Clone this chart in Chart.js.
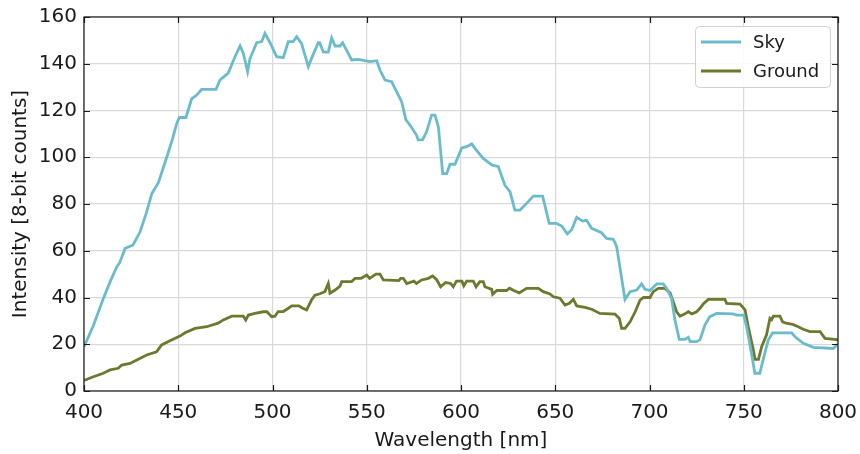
<!DOCTYPE html>
<html>
<head>
<meta charset="utf-8">
<title>Sky vs Ground spectrum</title>
<script src="https://cdn.jsdelivr.net/npm/chart.js@4.4.1/dist/chart.umd.min.js"></script>
<style>
  html, body { margin: 0; padding: 0; background: #fff; }
  #wrap { width: 860px; height: 454px; }
</style>
</head>
<body>
<div id="wrap"><canvas id="spectrum"></canvas></div>
<script>
// spectra (wavelength nm / intensity counts)
const skyWl = [400, 405, 410, 414, 417.3, 419, 421.8, 426, 429.7, 433, 436, 439.4, 443.9, 447, 449.2, 450.6, 454.1, 457.1, 459.8, 462.4,
  470, 472.1, 476.5, 480.1, 482.8, 484.5, 486.8, 488, 491.6, 494.3, 496, 498.7, 502.2, 505.7, 508.4, 511, 512.8, 515.4, 519, 520.7,
  524.3, 525, 527, 529.6, 531.4, 533.2, 535.8, 537.2, 542, 545.5, 549, 551.7, 555.3, 557, 559.7, 563.2, 565.9, 568.5, 570.8, 572.9,
  576.4, 577.3, 579.6, 581.8, 584.4, 586.2, 588, 590.3, 592.4, 594.2, 596.8, 600.4, 603, 605.7, 607.4, 611.8, 616.3, 619.8, 623.3, 626,
  628.6, 631.3, 635.7, 638.4, 643.3, 646.8, 650.7, 653.4, 656.4, 658.7, 661.4, 664.5, 666.6, 669.3, 674.6, 677.2, 680.8, 682.6, 687, 689.7,
  693.2, 695.8, 697.6, 700.3, 703.8, 707.3, 709.1, 711.7, 713.5, 715.8, 718.8, 720.6, 721.6, 725, 726.8, 729.4, 732, 735.6, 744.4, 746.2,
  750, 751.5, 754.1, 755.9, 758.5, 760.7, 763, 765.3, 775.4, 777.2, 781.6, 786.9, 797.5, 799.3, 800];
const skyVal = [19, 28, 39, 47, 53, 55, 61, 62.5, 68, 76, 84.5, 89, 100, 108, 114.5, 117, 117, 125, 126.6, 129,
  129, 133, 136, 143, 147.6, 144.5, 136.6, 142, 149, 149.5, 153, 149, 143, 142.6, 149.5, 149.5, 151.6, 148.7, 138.8, 142.3,
  149, 149, 145, 145, 151, 147.6, 147.6, 149, 141.6, 141.9, 141.3, 140.9, 141.3, 137.3, 133, 132.3, 128, 123.8, 116, 113.8,
  109.5, 107.4, 107.4, 111, 118, 118, 113, 93, 93, 97, 97, 104, 104.5, 105.7, 103.8, 99.5, 96.7, 96, 88, 85.3,
  77.4, 77.4, 81, 83.4, 83.4, 71.7, 71.7, 70.6, 67.2, 69, 74.3, 72.7, 73, 69.6, 67.7, 65.3, 64.9, 61.7, 39.2, 42.5,
  43.2, 45.8, 43.5, 43, 45.8, 45.8, 43.9, 39.7, 30.4, 22.1, 22.1, 23, 21.1, 21.1, 22, 28.2, 31.8, 33.2, 33, 32.5,
  32.5, 27.5, 16.1, 7.6, 7.6, 14.7, 21.8, 24.9, 24.9, 23.2, 20.4, 18.7, 18.2, 19.7, 20];

const groundWl = [400, 405, 410.2, 413.8, 418.2, 420, 424.4, 428, 433.2, 438.5, 441.2, 445.6, 450.9, 453.6, 458.9, 465.1, 471.2, 473.9, 478.4, 484.5,
  485.8, 487.2, 490.7, 495.1, 497, 499.6, 501.3, 503, 505.7, 508.4, 510.2, 514, 516, 518.1, 520.7, 522.5, 525.2, 527.8, 529.6, 530.5,
  533.2, 535.8, 536.7, 542, 543.8, 547, 550, 551.5, 554.9, 557, 558.8, 567, 568, 569.4, 571.2, 575, 576.4, 579.1, 582.7, 584.9,
  587, 589.2, 591.8, 594.5, 595.9, 597.6, 600.5, 601.5, 603, 606.5, 608, 610, 611.8, 612.7, 616.3, 616.8, 619, 624.2, 625.7, 628,
  630.9, 634.8, 641, 643.6, 647.2, 649, 652.5, 655.2, 657.5, 659.6, 661.4, 665.8, 669.3, 673.7, 681.7, 684, 685.2, 687, 689.7, 692.4,
  695, 696.8, 700.3, 702, 704.7, 708.2, 710.9, 712.6, 714.4, 716.2, 718.8, 720.6, 722.5, 725, 726.8, 728.5, 731.2, 740, 740.9, 748,
  750.7, 752.4, 755.1, 756, 757.8, 759.5, 762.1, 763.9, 764.8, 765.7, 769.2, 770.6, 772.4, 776, 778.9, 781.6, 785.1, 790.5, 793.1, 799.3, 800];
const groundVal = [4.5, 6.1, 7.6, 9, 9.7, 11.1, 11.8, 13.3, 15.4, 16.8, 19.7, 21.5, 23.5, 24.9, 26.8, 27.5, 29, 30.4, 32, 32,
  30.4, 32.5, 33.2, 33.9, 33.9, 31.8, 32, 34, 34, 35.4, 36.4, 36.4, 35.4, 34.7, 38.9, 41, 41.6, 42.5, 46, 41.8,
  43.2, 44.9, 46.8, 46.8, 48.2, 48.2, 49.6, 48.2, 50, 50, 47.5, 47.2, 48.2, 48.2, 46, 47, 46, 47.5, 48.2, 49.2,
  47.7, 44.6, 46.4, 46, 44.6, 47, 47, 45, 47, 47, 44.6, 46.8, 46.8, 44.6, 43.5, 41.4, 43, 43, 44, 43,
  42, 43.9, 43.9, 42.5, 41.5, 40.3, 39.7, 36.8, 37.5, 39.2, 36.4, 35.8, 35, 33.2, 32.9, 31, 26.8, 26.8, 29.6, 33.9,
  38.9, 40, 40, 42.5, 43.9, 43.9, 42, 38.2, 33.9, 32, 33, 33.9, 33, 33.9, 35.4, 37.2, 39.2, 39.2, 37.5, 37.2,
  34.7, 27.5, 17.5, 13.5, 13.5, 19, 24, 31.1, 30.5, 32, 32, 29.6, 29, 28.5, 27.5, 26.4, 25.4, 25.4, 22.5, 22, 21.5];

const seriesNames = ['Sky', 'Ground'];
const seriesColors = ['#6bbccb', '#6b7a2e'];
const xTicks = [400, 450, 500, 550, 600, 650, 700, 750, 800];
const yTicks = [0, 20, 40, 60, 80, 100, 120, 140, 160];

const FONT = 'DejaVu Sans';
const TEXT = '#1a1a1a';

function toPoints(xs, ys) {
  return xs.map((x, i) => ({ x: x, y: ys[i] }));
}

// frame + inward tick marks, matplotlib style
const framePlugin = {
  id: 'frame',
  afterDatasetsDraw(chart) {
    const { ctx, chartArea: a, scales } = chart;
    const len = 6;
    ctx.save();
    ctx.strokeStyle = TEXT;
    ctx.lineWidth = 1.2;
    ctx.beginPath();
    xTicks.forEach(v => {
      const px = Math.round(scales.x.getPixelForValue(v)) + 0.5;
      ctx.moveTo(px, a.bottom); ctx.lineTo(px, a.bottom - len);
      ctx.moveTo(px, a.top); ctx.lineTo(px, a.top + len);
    });
    yTicks.forEach(v => {
      const py = Math.round(scales.y.getPixelForValue(v)) + 0.5;
      ctx.moveTo(a.left, py); ctx.lineTo(a.left + len, py);
      ctx.moveTo(a.right, py); ctx.lineTo(a.right - len, py);
    });
    ctx.stroke();
    ctx.strokeRect(a.left, a.top, a.right - a.left, a.bottom - a.top);
    ctx.restore();
  }
};

// legend box in the upper right corner of the plot
const legendPlugin = {
  id: 'boxLegend',
  afterDraw(chart) {
    const { ctx, chartArea: a } = chart;
    const w = 135, h = 61;
    const x0 = a.right - 8 - w, y0 = a.top + 9;
    ctx.save();
    ctx.fillStyle = 'rgba(255,255,255,0.85)';
    ctx.strokeStyle = '#d0d0d0';
    ctx.lineWidth = 1;
    ctx.beginPath();
    ctx.roundRect(x0 + 0.5, y0 + 0.5, w, h, 4);
    ctx.fill();
    ctx.stroke();
    ctx.font = '18px "' + FONT + '"';
    ctx.textBaseline = 'middle';
    chart.data.datasets.forEach((ds, i) => {
      const y = y0 + 16 + i * 29;
      ctx.strokeStyle = ds.borderColor;
      ctx.lineWidth = ds.borderWidth;
      ctx.beginPath();
      ctx.moveTo(x0 + 6, y);
      ctx.lineTo(x0 + 46, y);
      ctx.stroke();
      ctx.fillStyle = TEXT;
      ctx.fillText(ds.label, x0 + 58, y + 1);
    });
    ctx.restore();
  }
};

new Chart(document.getElementById('spectrum'), {
  type: 'line',
  data: {
    datasets: [
      {
        label: seriesNames[0],
        data: toPoints(skyWl, skyVal),
        borderColor: seriesColors[0],
        borderWidth: 2.8,
        pointRadius: 0,
        tension: 0,
        fill: false
      },
      {
        label: seriesNames[1],
        data: toPoints(groundWl, groundVal),
        borderColor: seriesColors[1],
        borderWidth: 2.8,
        pointRadius: 0,
        tension: 0,
        fill: false
      }
    ]
  },
  options: {
    responsive: true,
    maintainAspectRatio: false,
    animation: false,
    devicePixelRatio: 1,
    layout: { padding: { top: 17, right: 22, left: 0, bottom: 0 } },
    plugins: {
      legend: { display: false },
      tooltip: { enabled: false }
    },
    scales: {
      x: {
        type: 'linear',
        min: 400,
        max: 800,
        afterBuildTicks: s => { s.ticks = xTicks.map(v => ({ value: v })); },
        afterFit: s => { s.height = 63; s.paddingLeft = 0; s.paddingRight = 0; },
        grid: { color: '#d9d9d9', lineWidth: 1.2, drawTicks: false },
        border: { display: false },
        ticks: { color: TEXT, padding: 10, maxRotation: 0, font: { family: FONT, size: 20 } },
        title: {
          display: true,
          text: 'Wavelength [nm]',
          color: TEXT,
          padding: { top: 0, bottom: 1 },
          font: { family: FONT, size: 20 }
        }
      },
      y: {
        type: 'linear',
        min: 0,
        max: 160,
        afterBuildTicks: s => { s.ticks = yTicks.map(v => ({ value: v })); },
        afterFit: s => { s.width = 84; s.paddingTop = 0; s.paddingBottom = 0; },
        grid: { color: '#d9d9d9', lineWidth: 1.2, drawTicks: false },
        border: { display: false },
        ticks: { color: TEXT, padding: 7, font: { family: FONT, size: 20 } },
        title: {
          display: true,
          text: 'Intensity [8-bit counts]',
          color: TEXT,
          padding: { top: 9, bottom: 0 },
          font: { family: FONT, size: 20 }
        }
      }
    }
  },
  plugins: [framePlugin, legendPlugin]
});
</script>
</body>
</html>
